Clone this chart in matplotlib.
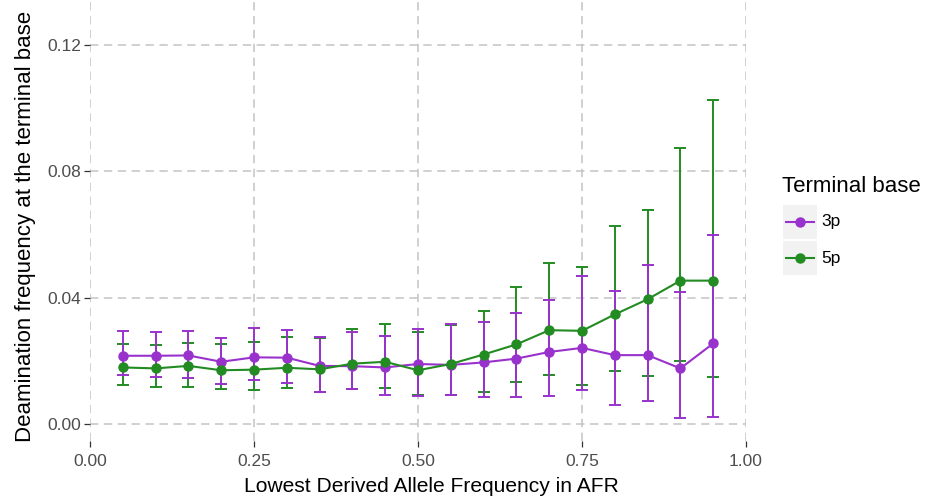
import matplotlib
matplotlib.use("Agg")
import matplotlib.pyplot as plt
from matplotlib.lines import Line2D
from matplotlib.patches import Rectangle
import numpy as np

plt.rcParams['font.family'] = ['Liberation Sans', 'DejaVu Sans']
plt.rcParams['lines.scale_dashes'] = False

# Lowest derived allele frequency bins
freq = [0.05, 0.10, 0.15, 0.20, 0.25, 0.30, 0.35, 0.40, 0.45, 0.50,
        0.55, 0.60, 0.65, 0.70, 0.75, 0.80, 0.85, 0.90, 0.95]

# 3' terminal base deamination: mean, lower and upper bounds
p3_mean = [0.0216, 0.0216, 0.0217, 0.0197, 0.0211, 0.0210, 0.0184, 0.0183, 0.0179, 0.0190,
           0.0187, 0.0195, 0.0207, 0.0228, 0.0241, 0.0218, 0.0218, 0.0176, 0.0255]
p3_low = [0.0155, 0.0148, 0.0147, 0.0125, 0.0140, 0.0129, 0.0101, 0.0111, 0.0092, 0.0090,
          0.0092, 0.0086, 0.0086, 0.0089, 0.0108, 0.0060, 0.0074, 0.0018, 0.0023]
p3_high = [0.0294, 0.0290, 0.0294, 0.0273, 0.0305, 0.0298, 0.0274, 0.0290, 0.0278, 0.0300,
           0.0318, 0.0323, 0.0350, 0.0392, 0.0469, 0.0422, 0.0503, 0.0417, 0.0599]

# 5' terminal base deamination: mean, lower and upper bounds
p5_mean = [0.0179, 0.0176, 0.0184, 0.0170, 0.0172, 0.0178, 0.0173, 0.0191, 0.0197, 0.0170,
           0.0190, 0.0220, 0.0252, 0.0297, 0.0295, 0.0347, 0.0395, 0.0454, 0.0454]
p5_low = [0.0122, 0.0118, 0.0118, 0.0110, 0.0108, 0.0113, 0.0101, 0.0111, 0.0114, 0.0091,
          0.0092, 0.0102, 0.0132, 0.0155, 0.0123, 0.0169, 0.0153, 0.0199, 0.0150]
p5_high = [0.0252, 0.0250, 0.0258, 0.0254, 0.0260, 0.0275, 0.0272, 0.0301, 0.0318, 0.0292,
           0.0314, 0.0357, 0.0433, 0.0509, 0.0498, 0.0626, 0.0679, 0.0874, 0.1025]

series_names = ["3p", "5p"]
series_colors = ["#9932CC", "#228B22"]

x_ticks = [0.00, 0.25, 0.50, 0.75, 1.00]
y_ticks = [0.00, 0.04, 0.08, 0.12]

W, H = 925, 501
fig = plt.figure(figsize=(W / 100, H / 100), dpi=100)
ax = fig.add_axes([90 / W, 1 - 441 / H, (746 - 90) / W, 441 / H])
ax.set_facecolor("white")
for s in ax.spines.values():
    s.set_visible(False)

series = [(p3_mean, p3_low, p3_high), (p5_mean, p5_low, p5_high)]

# error bars underneath (5p first so 3p sits above it)
for (m, lo, hi), c in list(zip(series, series_colors))[::-1]:
    m = np.array(m)
    yerr = [m - np.array(lo), np.array(hi) - m]
    ax.errorbar(freq, m, yerr=yerr, fmt="none", ecolor=c, elinewidth=1.4,
                capsize=4, capthick=1.4, zorder=3)
# lines and points on top
for (m, lo, hi), c in zip(series, series_colors):
    ax.plot(freq, m, color=c, lw=1.5, zorder=4)
for (m, lo, hi), c in zip(series, series_colors):
    ax.plot(freq, m, "o", color=c, ms=6.5, mec=c, zorder=5)

ax.set_xlim(0, 1)
ax.set_ylim(-0.0054, 0.1343)
ax.set_xticks(x_ticks)
ax.set_xticklabels([f"{v:.2f}" for v in x_ticks])
ax.set_yticks(y_ticks)
ax.set_yticklabels([f"{v:.2f}" for v in y_ticks])
ax.tick_params(axis="both", length=4, width=0.9, color="#333333",
               labelcolor="#4D4D4D", labelsize=12.5, pad=2.5)
ax.tick_params(axis="x", pad=5.5)

ax.grid(True, color="#C4C4C4", lw=1.1, linestyle=(0, (6, 4)), zorder=0)
ax.set_axisbelow(True)

ax.set_xlabel("Lowest Derived Allele Frequency in AFR", fontsize=15.1)
ax.set_ylabel("Deamination frequency at the terminal base", fontsize=16)
ax.xaxis.set_label_coords(0.521, -0.082)
ax.yaxis.set_label_coords(-0.082, 0.487)

# legend drawn in figure pixel space
def px(x, y):
    return x / W, 1 - y / H

tf = fig.transFigure
fig.text(*px(782, 187), "Terminal base", fontsize=16, va="center", ha="left")
key_tops = [205, 241]
for name, c, top in zip(series_names, series_colors, key_tops):
    x0, y0 = px(783, top + 34)
    fig.add_artist(Rectangle((x0, y0), 34 / W, 34 / H, transform=tf,
                             facecolor="#F2F2F2", edgecolor="none"))
    cy = top + 17
    xa, ya = px(786, cy)
    xb, _ = px(814, cy)
    fig.add_artist(Line2D([xa, xb], [ya, ya], transform=tf, color=c, lw=1.5))
    xm, _ = px(800, cy)
    fig.add_artist(Line2D([xm], [ya], transform=tf, color=c, marker="o", ms=6.5))
    fig.text(*px(821, cy), name, fontsize=12.5, va="center", ha="left")

fig.savefig("out.png", dpi=100, facecolor="white")
